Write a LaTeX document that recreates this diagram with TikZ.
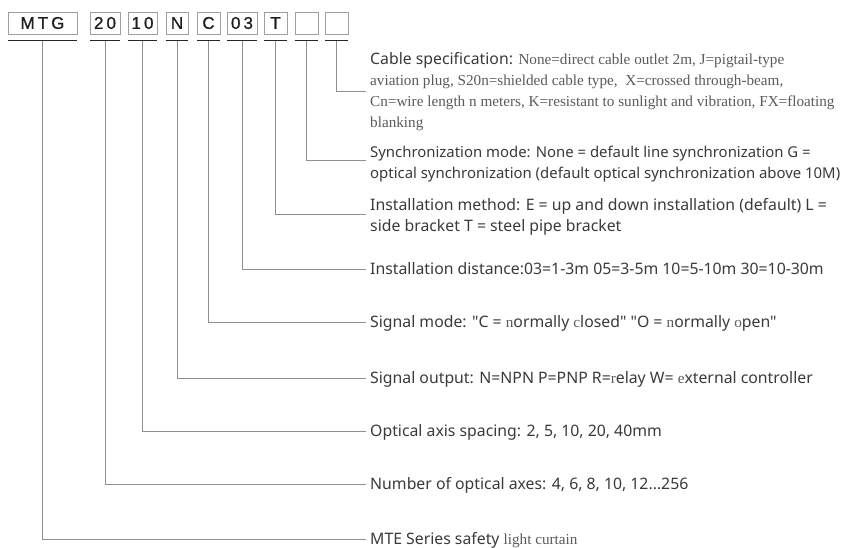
\documentclass[tikz,border=0pt]{standalone}
\usepackage{fontspec}
\setmainfont{Liberation Serif}
\setsansfont[Ligatures=TeXOff]{Noto Sans}
\newfontfamily\boxfont[LetterSpace=18,FakeBold=0.8]{Liberation Sans}
\definecolor{boxgray}{HTML}{A0A0A0}
\definecolor{boxtext}{HTML}{1E1E1E}
\definecolor{linegray}{HTML}{8E8E8E}
\definecolor{desctext}{HTML}{3A3A3A}
\definecolor{serifgray}{HTML}{5A5A5A}
\newcommand\sr[1]{{\rmfamily\fontsize{15.2}{21}\selectfont\color{serifgray}#1}}
\begin{document}
\begin{tikzpicture}[x=1pt,y=-1pt,
  cbox/.style={draw=boxgray, line width=0.9pt, minimum height=22pt, inner sep=0pt,
    font=\boxfont\fontsize{17}{17}\selectfont, text=boxtext},
  uline/.style={draw=black!85, line width=1.6pt},
  conn/.style={draw=linegray, line width=0.9pt},
  desc/.style={anchor=base west, inner sep=0pt, align=left, text=desctext,
    font=\sffamily\fontsize{15.8}{21}\selectfont}
]
\useasboundingbox (0,0) rectangle (845,547);
% code boxes
\node[cbox, minimum width=69pt] (bMTG) at (42.5,23) {MTG};
\node[cbox, minimum width=30pt] (b20) at (105,23) {20};
\node[cbox, minimum width=29pt] (b10) at (142.5,23) {10};
\node[cbox, minimum width=22pt] (bN) at (177,23) {N};
\node[cbox, minimum width=23pt] (bC) at (208.5,23) {C};
\node[cbox, minimum width=30pt] (b03) at (242,23) {03};
\node[cbox, minimum width=23pt] (bT) at (275.5,23) {T};
\node[cbox, minimum width=23pt] (bX) at (306.5,23) {};
\node[cbox, minimum width=23pt] (bY) at (336.5,23) {};
% underlines and start points
\foreach \b in {bMTG,b20,b10,bN,bC,b03,bT,bX,bY}{
  \draw[uline] ([yshift=-6pt]\b.south west) -- ([yshift=-6pt]\b.south east);
  \coordinate (u\b) at ([yshift=-7pt]\b.south);
}
% end points of connectors
\coordinate (ebY) at (366,91);
\coordinate (ebX) at (366,160);
\coordinate (ebT) at (366,214);
\coordinate (eb03) at (366,269);
\coordinate (ebC) at (366,322);
\coordinate (ebN) at (366,378);
\coordinate (eb10) at (366,431);
\coordinate (eb20) at (366,484);
\coordinate (ebMTG) at (366,539);
\foreach \b in {bMTG,b20,b10,bN,bC,b03,bT,bX,bY}{
  \draw[conn] (u\b) |- (e\b);
}
% descriptions (base anchor = baseline of the last line)
\node[desc] (tY) at (370,127) {Cable specification: \sr{None=direct cable outlet 2m, J=pigtail-type}\\
\sr{aviation plug, S20n=shielded cable type,\ \ X=crossed through-beam,}\\
\sr{Cn=wire length n meters, K=resistant to sunlight and vibration, FX=floating}\\
\sr{blanking}};
\node[desc, font=\sffamily\fontsize{14.9}{21}\selectfont] (tX) at (370,178) {Synchronization mode: None = default line synchronization G =\\
optical synchronization (default optical synchronization above 10M)};
\node[desc] (tT) at (370,231) {Installation method: E = up and down installation (default) L =\\
side bracket T = steel pipe bracket};
\node[desc] (t03) at (370,274) {Installation distance:03=1-3m 05=3-5m 10=5-10m 30=10-30m};
\node[desc] (tC) at (370,327) {Signal mode: "C = \sr{n}ormally \sr{c}losed" "O = \sr{n}ormally \sr{o}pen"};
\node[desc] (tN) at (370,383) {Signal output: N=NPN P=PNP R=\sr{r}elay W= \sr{e}xternal controller};
\node[desc] (t10) at (370,436) {Optical axis spacing: 2, 5, 10, 20, 40mm};
\node[desc] (t20) at (370,489) {Number of optical axes: 4, 6, 8, 10, 12...256};
\node[desc] (tMTG) at (370,544) {MTE Series safety \sr{light curtain}};
\end{tikzpicture}
\end{document}
